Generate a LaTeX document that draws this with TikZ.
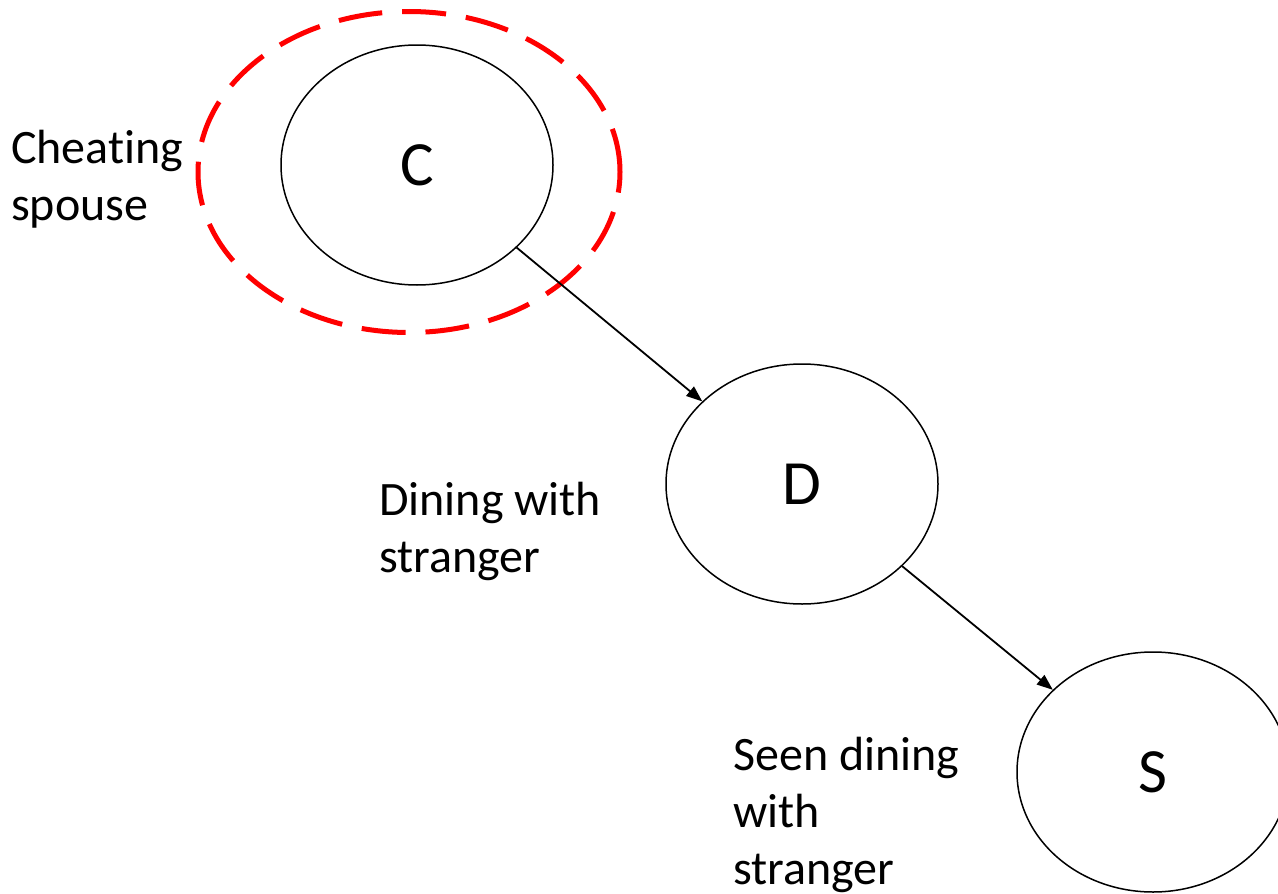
\documentclass[tikz,border=0pt]{standalone}
\usepackage{fontspec}
\setmainfont{Carlito}[Ligatures=NoCommon]
\usetikzlibrary{shapes,arrows.meta,positioning}
\tikzset{var/.style={ellipse,draw=black,line width=1.5pt,inner sep=0pt,
minimum width=272pt, minimum height=240pt, font=\fontsize{63}{63}\selectfont},
evidence/.style={ellipse,draw=red,line width=5pt,inner sep=0pt,
minimum width=422pt, minimum height=321pt, dash pattern=on 44pt off 20pt},
caption/.style={anchor=north west, inner sep=0pt, align=left,
font=\fontsize{48}{57}\selectfont},
edge/.style={->, line width=1.8pt},
>={Triangle[length=16pt,width=12pt]}}

\begin{document}
\begin{tikzpicture}[x=1pt,y=-1pt]
  \useasboundingbox (0,0) rectangle (1278,894);

  \node (ring) [evidence] at (409,172) {};
  \node (C) [var] at (417,165) {C};
  \node (D) [var] at (802,484) {D};
  \node (S) [var] at (1153,772) {S};

  \node (cheat) [caption] at (11,130) {Cheating\\spouse};
  \node (dine) [caption] at (379,482) {Dining with\\stranger};
  \node (seen) [caption] at (733,737) {Seen dining\\with\\stranger};

  \draw [edge] (C) -- (D);
  \draw [edge] (D) -- (S);
\end{tikzpicture}
\end{document}
